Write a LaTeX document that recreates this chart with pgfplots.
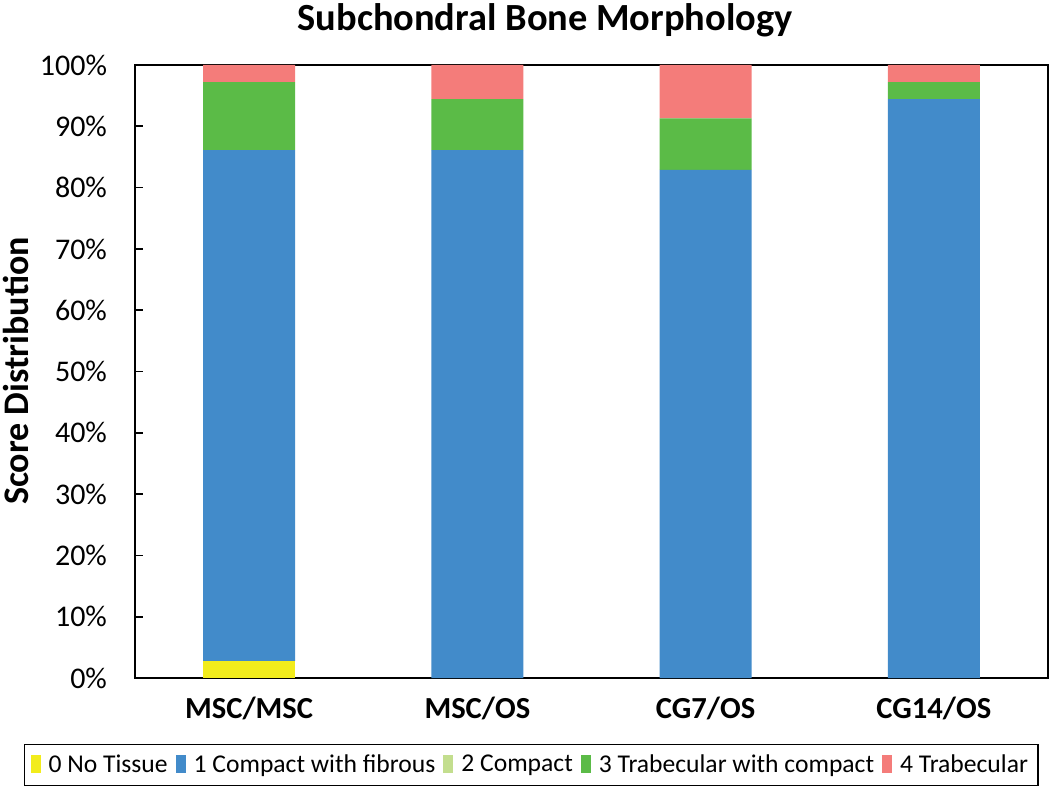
\documentclass[border=0pt]{standalone}
\usepackage{pgfplots}
\pgfplotsset{compat=1.18}
\usepackage{fontspec}
\setmainfont{Carlito}
\definecolor{cyel}{HTML}{F2EC1C}
\definecolor{cblue}{HTML}{428BCA}
\definecolor{clgreen}{HTML}{C3DE8E}
\definecolor{cgreen}{HTML}{5BBB47}
\definecolor{cpink}{HTML}{F47C7A}
\begin{document}
\begin{tikzpicture}
\useasboundingbox (0pt,0pt) rectangle (525pt,394pt);
\node[font=\fontsize{19.2}{21}\selectfont\bfseries] at (272.5pt,384pt) {Subchondral Bone Morphology};
\node[font=\fontsize{18}{20}\selectfont\bfseries, rotate=90] at (8pt,208.5pt) {Score Distribution};
\begin{axis}[
  at={(67.5pt,55pt)}, anchor=south west,
  scale only axis, width=456.5pt, height=306.5pt,
  ybar stacked, bar width=0.403,
  xmin=-0.5, xmax=3.5, ymin=0, ymax=100,
  xtick={0,1,2,3},
  xticklabels={MSC/MSC,MSC/OS,CG7/OS,CG14/OS},
  xticklabel style={font=\fontsize{15.3}{17}\selectfont\bfseries, yshift=-6pt},
  major x tick style={draw=none},
  extra x ticks={0.5,1.5,2.5},
  extra x tick labels={},
  extra x tick style={major tick length=5pt, tick style={black, thick}},
  ytick={0,10,...,100},
  yticklabel={\pgfmathparse{int(\tick)}\pgfmathresult\%},
  yticklabel style={font=\fontsize{15}{17}\selectfont, xshift=-10.5pt},
  tick align=inside, major tick length=4pt,
  ytick pos=left, xtick pos=bottom,
  tick style={black, thick},
  axis line style={black, thick},
  legend columns=5,
  legend style={at={(0.434,-0.142)}, anchor=center, draw=black, thick,
    font=\fontsize{12.8}{14}\selectfont, column sep=2pt,
    inner xsep=3pt, inner ysep=3pt},
  legend image code/.code={\fill[#1] (0pt,-4pt) rectangle (5pt,5pt);},
  every axis plot/.append style={draw=none},
]
\addplot[fill=cyel] coordinates {(0,2.78) (1,0) (2,0) (3,0)};
\addplot[fill=cblue] coordinates {(0,83.33) (1,86.11) (2,82.9) (3,94.44)};
\addplot[fill=clgreen] coordinates {(0,0) (1,0) (2,0) (3,0)};
\addplot[fill=cgreen] coordinates {(0,11.11) (1,8.33) (2,8.4) (3,2.78)};
\addplot[fill=cpink] coordinates {(0,2.78) (1,5.56) (2,8.7) (3,2.78)};
\legend{0 No Tissue,1 Compact with fibrous,2 Compact,3 Trabecular with compact,4 Trabecular}
\end{axis}
\end{tikzpicture}
\end{document}
